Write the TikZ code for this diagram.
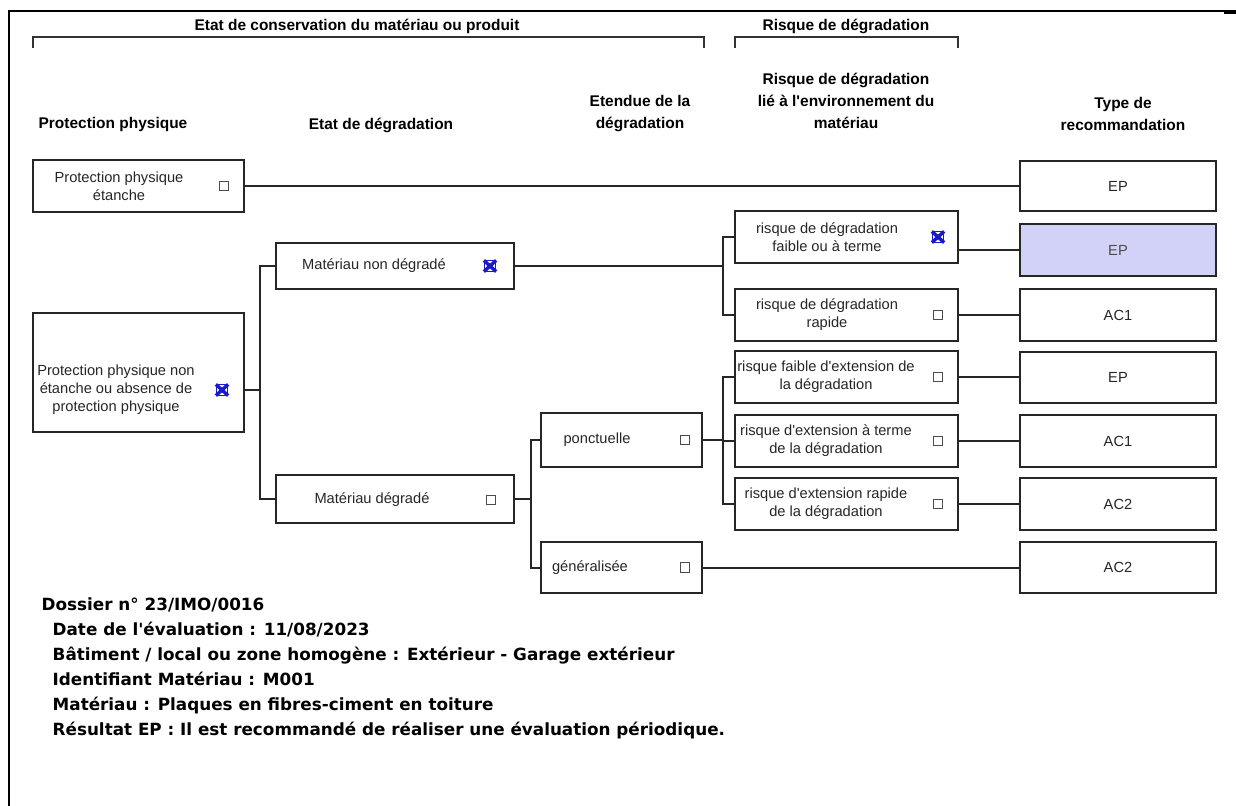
\documentclass[tikz,border=0pt]{standalone}
\usepackage{fontspec}
\newfontfamily\diafont{Liberation Sans}
\newfontfamily\notefont{DejaVu Sans}
\usetikzlibrary{fit}

\definecolor{chosen}{HTML}{D2D2F8}
\definecolor{markblue}{HTML}{1A1ACC}

\tikzset{
  box/.style={draw=black!85, line width=1.5pt, inner sep=0pt},
  boxtxt/.style={font=\diafont\fontsize{11}{13.4}\selectfont, align=center, text=black!85},
  head/.style={font=\diafont\bfseries\fontsize{11.6}{16.5}\selectfont, align=center},
  cbox/.style={draw=black!70, line width=0.8pt, minimum size=7.2pt, inner sep=0pt},
  cboxx/.style={minimum size=12pt, inner sep=0pt, path picture={
      \draw[markblue, line width=0.8pt]
        ([shift={(-3.8pt,-3.8pt)}]path picture bounding box.center) rectangle
        ([shift={(3.8pt,3.8pt)}]path picture bounding box.center);
      \draw[markblue, line width=2.6pt]
        ([shift={(-4.6pt,-4.2pt)}]path picture bounding box.center) -- ([shift={(4.6pt,4.2pt)}]path picture bounding box.center)
        ([shift={(-4.6pt,4.2pt)}]path picture bounding box.center) -- ([shift={(4.6pt,-4.2pt)}]path picture bounding box.center);}},
  link/.style={line width=1.5pt, black!85},
  note/.style={font=\notefont\bfseries\fontsize{12.6}{14}\selectfont, anchor=base west}
}

\begin{document}
\begin{tikzpicture}[x=0.75pt, y=-0.75pt]
  \useasboundingbox (0,0) rectangle (1236,806);

  % frame
  \draw[line width=2.2pt] (9,806) -- (9,11) -- (1236,11);
  \draw[line width=3pt] (1224,12) -- (1236,12);

  % group brackets
  \draw[line width=1.5pt, black!80] (33,48) -- (33,37) -- (704,37) -- (704,48);
  \draw[line width=1.5pt, black!80] (735,48) -- (735,37) -- (958,37) -- (958,48);
  \node[head] (grp1) at (357,26) {Etat de conservation du matériau ou produit};
  \node[head] (grp2) at (846,26) {Risque de dégradation};

  % column titles
  \node[head] (h1) at (113,125) {Protection physique};
  \node[head] (h2) at (381,125) {Etat de dégradation};
  \node[head] (h3) at (640,114) {Etendue de la\\dégradation};
  \node[head] (h4) at (846,101) {Risque de dégradation\\lié à l'environnement du\\matériau};
  \node[head] (h5) at (1123,114) {Type de\\recommandation};

  % protection physique
  \node[box, fit={(33,160)(244,212)}] (b1) {};
  \node[boxtxt] (b1t) at (119,186) {Protection physique\\étanche};
  \node[cbox] (b1c) at (224,186) {};
  \node[box, fit={(33,313)(244,432)}] (b3) {};
  \node[boxtxt] (b3t) at (116,390) {Protection physique non\\étanche ou absence de\\protection physique};
  \node[cboxx] (b3c) at (222,390) {};

  % etat de degradation
  \node[box, fit={(276,243)(514,289)}] (b2) {};
  \node[boxtxt] (b2t) at (374,266) {Matériau non dégradé};
  \node[cboxx] (b2c) at (490,266) {};
  \node[box, fit={(276,475)(514,523)}] (b4) {};
  \node[boxtxt] (b4t) at (372,500) {Matériau dégradé};
  \node[cbox] (b4c) at (491,500) {};

  % etendue
  \node[box, fit={(541,413)(702,467)}] (b10) {};
  \node[boxtxt] (b10t) at (597,440) {ponctuelle};
  \node[cbox] (b10c) at (685,440) {};
  \node[box, fit={(541,542)(702,593)}] (b11) {};
  \node[boxtxt] (b11t) at (590,567.5) {généralisée};
  \node[cbox] (b11c) at (685,567.5) {};

  % risque lie a l'environnement
  \node[box, fit={(735,211)(958,263)}] (b5) {};
  \node[boxtxt] (b5t) at (827,237) {risque de dégradation\\faible ou à terme};
  \node[cboxx] (b5c) at (938,237) {};
  \node[box, fit={(735,289)(958,341)}] (b6) {};
  \node[boxtxt] (b6t) at (827,315) {risque de dégradation\\rapide};
  \node[cbox] (b6c) at (938,315) {};
  \node[box, fit={(735,351)(958,403)}] (b7) {};
  \node[boxtxt] (b7t) at (826,377) {risque faible d'extension de\\la dégradation};
  \node[cbox] (b7c) at (938,377) {};
  \node[box, fit={(735,415)(958,467)}] (b8) {};
  \node[boxtxt] (b8t) at (826,441) {risque d'extension à terme\\de la dégradation};
  \node[cbox] (b8c) at (938,441) {};
  \node[box, fit={(735,478)(958,530)}] (b9) {};
  \node[boxtxt] (b9t) at (826,504) {risque d'extension rapide\\de la dégradation};
  \node[cbox] (b9c) at (938,504) {};

  % type de recommandation
  \node[box, fit={(1020,161)(1216,211)}] (r1) {};
  \node[boxtxt] at (r1) {EP};
  \node[box, fill=chosen, fit={(1020,224)(1216,276)}] (r2) {};
  \node[boxtxt, text=black!70] at (r2) {EP};
  \node[box, fit={(1020,289)(1216,341)}] (r3) {};
  \node[boxtxt] at (r3) {AC1};
  \node[box, fit={(1020,352)(1216,403)}] (r4) {};
  \node[boxtxt] at (r4) {EP};
  \node[box, fit={(1020,415)(1216,467)}] (r5) {};
  \node[boxtxt] at (r5) {AC1};
  \node[box, fit={(1020,478)(1216,530)}] (r6) {};
  \node[boxtxt] at (r6) {AC2};
  \node[box, fit={(1020,542)(1216,593)}] (r7) {};
  \node[boxtxt] at (r7) {AC2};

  % tree links
  \draw[link] (b1.east) -- (b1.east -| r1.west);
  \draw[link] (b3c -| b3.east) -- ++(15,0) coordinate (s1);
  \draw[link] (b2.west) -| (s1) |- (b4.west);
  \draw[link] (b2.east) -- ++(208,0) coordinate (s2);
  \draw[link] (b5.west) -| (s2) |- (b6.west);
  \draw[link] (b4.east) -- ++(16,0) coordinate (s3);
  \draw[link] (b10.west) -| (s3) |- (b11.west);
  \draw[link] (b10.east) -- ++(20,0) coordinate (s4);
  \draw[link] (b7.west) -| (s4) |- (b9.west);
  \draw[link] (b8.west -| s4) -- (b8.west);
  \draw[link] (b5.east |- r2.west) -- (r2.west);
  \draw[link] (b6.east) -- (b6.east -| r3.west);
  \draw[link] (b7.east) -- (b7.east -| r4.west);
  \draw[link] (b8.east) -- (b8.east -| r5.west);
  \draw[link] (b9.east) -- (b9.east -| r6.west);
  \draw[link] (b11.east) -- (b11.east -| r7.west);

  % evaluation summary
  \node[note] (n1) at (37,610) {Dossier n° 23/IMO/0016};
  \node[note] (n2) at (48,635) {Date de l'évaluation : 11/08/2023};
  \node[note] (n3) at (48,660) {Bâtiment / local ou zone homogène : Extérieur - Garage extérieur};
  \node[note] (n4) at (48,685) {Identifiant Matériau : M001};
  \node[note] (n5) at (48,710) {Matériau : Plaques en fibres-ciment en toiture};
  \node[note] (n6) at (48,735) {Résultat EP : Il est recommandé de réaliser une évaluation périodique.};
\end{tikzpicture}
\end{document}
